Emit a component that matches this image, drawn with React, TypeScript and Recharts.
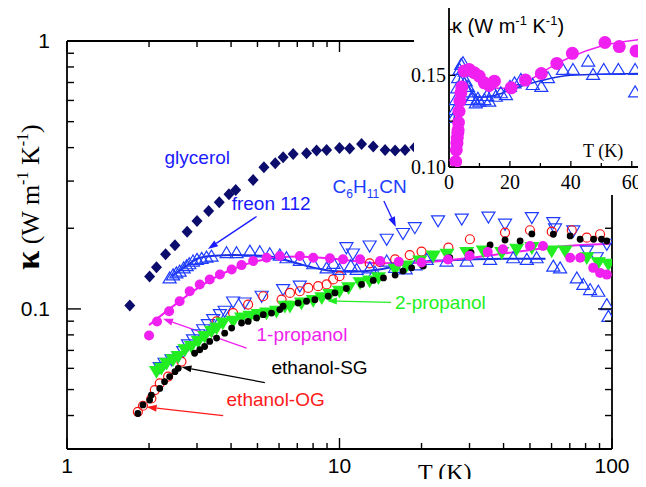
import React from 'react';
import { ComposedChart, Scatter, Line, XAxis, YAxis, ReferenceLine, ReferenceDot, Label } from 'recharts';

const SANS = '"Liberation Sans", Arial, sans-serif';
const SERIF = '"Liberation Serif", "Times New Roman", serif';

// ---------- main plot data: [T (K), kappa (W m^-1 K^-1)] ----------
const glycerol = [[1.70,0.103],[2.01,0.132],[2.13,0.143],[2.30,0.160],[2.49,0.173],[2.76,0.194],[3.00,0.213],[3.31,0.232],[3.62,0.250],[3.93,0.268],[4.16,0.278],[4.82,0.303],[5.28,0.338],[5.81,0.350],[6.21,0.368],[6.76,0.379],[7.57,0.381],[8.24,0.390],[8.97,0.392],[10.0,0.399],[10.9,0.397],[12.05,0.413],[13.3,0.404],[14.7,0.392],[16.0,0.390],[17.4,0.392],[18.9,0.401]];
const freon112 = [[2.38,0.1305],[2.45,0.134],[2.52,0.1363],[2.59,0.1384],[2.68,0.1423],[2.75,0.145],[2.81,0.1474],[2.90,0.1509],[3.00,0.1531],[3.12,0.1544],[3.25,0.1561],[3.39,0.1575],[3.85,0.1621],[4.19,0.1621],[4.69,0.1644],[5.10,0.1634],[5.55,0.1607],[6.04,0.1589],[6.39,0.1552],[7.15,0.1518],[8.01,0.1474],[8.97,0.1423],[9.5,0.148],[10.0,0.1404],[11.0,0.145],[11.56,0.1404],[12.93,0.1423],[13.5,0.137],[14.9,0.1509],[16.0,0.143],[17.5,0.141],[19.0,0.146],[20.9,0.1531],[24.7,0.1509],[29.3,0.1509],[35.7,0.1531],[43.4,0.1552],[48.7,0.1531],[52.9,0.1552],[60.9,0.1445],[64.5,0.1423],[74.3,0.1305],[78.5,0.1234],[83.1,0.1181],[89.1,0.1164],[95.7,0.1038],[97.0,0.0938]];
const freonFit = [[2.42,0.1325],[2.7,0.143],[3.07,0.1552],[3.5,0.158],[4.06,0.1589],[5.41,0.1575],[6.2,0.153],[7.15,0.147],[8.2,0.142],[9.45,0.1384],[11.0,0.1375],[12.6,0.1384],[14.4,0.141],[17.0,0.146],[20.0,0.150],[25.0,0.152],[30.0,0.153],[40.0,0.154],[57.0,0.154]];
const propanol1 = [[2.00,0.0796],[2.14,0.0898],[2.37,0.098],[2.59,0.1068],[2.82,0.1164],[3.07,0.1234],[3.34,0.1288],[3.64,0.1345],[4.02,0.1404],[4.37,0.1457],[4.82,0.1509],[5.40,0.1552],[6.04,0.1575],[7.15,0.1575],[8.01,0.1552],[9.22,0.1544],[10.3,0.1531],[11.9,0.1531],[14.1,0.1509],[16.5,0.150],[20.0,0.149],[25.0,0.153],[30.0,0.158],[35.0,0.163],[39.8,0.167],[50.0,0.1717],[55.8,0.1717],[70.2,0.1552],[76.4,0.1552],[85.3,0.1423],[90.4,0.1363],[95.7,0.1343]];
const propanol1Fit = [[2.0,0.087],[2.5,0.104],[3.0,0.119],[3.5,0.131],[4.0,0.14],[5.0,0.151],[6.0,0.156],[7.0,0.157],[8.0,0.156],[10.0,0.153],[14.0,0.148],[20.0,0.149],[30.0,0.155],[40.0,0.161],[50.0,0.166],[70.0,0.172],[100.0,0.175]];
const c6h11cn = [[2.19,0.0604],[2.28,0.0627],[2.42,0.0646],[2.56,0.0664],[2.67,0.0693],[2.78,0.0734],[2.90,0.0767],[3.03,0.0801],[3.16,0.0836],[3.29,0.0873],[3.44,0.0912],[3.64,0.0952],[3.79,0.098],[4.07,0.1061],[4.49,0.1052],[5.18,0.1115],[6.21,0.1181],[7.15,0.1216],[10.6,0.1692],[11.2,0.1603],[12.9,0.1717],[14.9,0.182],[17.1,0.1912],[18.9,0.201],[23.0,0.2131],[28.1,0.2163],[35.2,0.2201],[40.5,0.2071],[50.8,0.2193],[60.9,0.210],[61.8,0.1988],[72.1,0.1954],[80.8,0.1644],[87.9,0.1552],[95.7,0.1743]];
const ethanolOG = [[1.82,0.0413],[1.90,0.0435],[2.04,0.0463],[2.10,0.0498],[2.19,0.0527],[2.35,0.0559],[2.63,0.0636],[3.54,0.0898],[4.07,0.0965],[4.62,0.1038],[5.25,0.1115],[6.13,0.1083],[6.58,0.1147],[7.15,0.1164],[7.68,0.1198],[8.35,0.1216],[8.97,0.1234],[9.48,0.1288],[10.0,0.1325],[12.9,0.148],[14.1,0.1496],[16.0,0.1531],[18.1,0.1589],[20.0,0.1637],[25.1,0.1692],[30.1,0.182],[40.5,0.1927],[50.0,0.1966],[60.1,0.1943],[71.2,0.1966],[80.8,0.1845],[90.4,0.190]];
const ethanolSG = [[1.82,0.0407],[1.90,0.0438],[2.01,0.0457],[2.04,0.0477],[2.19,0.0505],[2.28,0.0535],[2.38,0.0559],[2.49,0.0583],[2.56,0.060],[2.94,0.0683],[3.07,0.0704],[3.20,0.0724],[3.34,0.0756],[3.54,0.0778],[3.79,0.0812],[4.02,0.0848],[4.37,0.0886],[4.62,0.0898],[4.96,0.0925],[5.25,0.0952],[5.63,0.0965],[6.04,0.0994],[6.21,0.1023],[7.05,0.1052],[7.57,0.1068],[8.12,0.1083],[9.09,0.1115],[9.62,0.1147],[10.6,0.1192],[12.05,0.1234],[13.3,0.1277],[14.5,0.1305],[16.0,0.1337],[17.1,0.1384],[18.4,0.1423],[20.3,0.1445],[25.4,0.1555],[30.4,0.1621],[35.7,0.1732],[40.5,0.1808],[46.0,0.1793],[50.8,0.1905],[60.9,0.190],[70.2,0.1872],[76.4,0.182],[85.6,0.182],[91.5,0.182],[95.7,0.1793]];
const propanol2 = [[2.13,0.0583],[2.22,0.060],[2.32,0.0627],[2.45,0.0646],[2.56,0.0664],[2.71,0.0704],[2.86,0.0724],[3.03,0.0756],[3.20,0.0789],[3.39,0.0824],[3.54,0.0848],[3.73,0.0886],[4.07,0.0898],[4.37,0.0925],[4.69,0.0938],[5.03,0.0952],[5.40,0.0965],[5.87,0.098],[6.30,0.1023],[6.58,0.1023],[7.25,0.1052],[8.01,0.1074],[8.61,0.1099],[9.22,0.1131],[10.0,0.1164],[10.8,0.1198],[11.9,0.1251],[12.9,0.1269],[13.9,0.1305],[16.0,0.1404],[17.6,0.1445],[19.7,0.1509],[22.1,0.1575],[24.8,0.1599],[29.3,0.1621],[33.7,0.1644],[39.4,0.1621],[44.7,0.167],[50.8,0.1692],[60.1,0.1644],[67.3,0.1644],[80.8,0.1552],[89.1,0.1487],[97.0,0.1466]];

// ---------- inset data: [T (K), kappa] (linear axes) ----------
const insetPropanol1 = [[2.2,0.1029],[2.4,0.1093],[2.6,0.113],[2.7,0.1158],[2.9,0.1185],[3.0,0.1203],[3.1,0.1243],[3.3,0.1304],[3.6,0.136],[3.9,0.1405],[4.2,0.1437],[5.0,0.1523],[6.6,0.1532],[8.3,0.1514],[9.9,0.1496],[11.6,0.1459],[13.2,0.1445],[14.9,0.1468],[20.4,0.1432],[25.1,0.1474],[30.3,0.151],[35.4,0.1565],[40.5,0.162],[51.2,0.1679],[55.9,0.1657],[61.4,0.1633]];
const insetPropanol1Fit = [[5,0.151],[8,0.150],[12,0.145],[16,0.143],[20,0.143],[25,0.146],[30,0.151],[35,0.156],[40,0.160],[50,0.166],[65,0.170]];
const insetFreon = [[1.6,0.127],[2.0,0.1313],[2.3,0.1368],[2.7,0.1432],[3.0,0.1487],[3.5,0.1532],[4.0,0.156],[4.6,0.1569],[5.2,0.1523],[5.5,0.147],[6.2,0.144],[6.5,0.141],[7.3,0.1368],[7.8,0.139],[8.8,0.135],[9.5,0.1375],[10.0,0.1359],[11.6,0.1368],[12.5,0.139],[13.2,0.1359],[14.5,0.141],[15.4,0.1386],[17.0,0.1405],[18.7,0.1395],[20.0,0.144],[21.5,0.1459],[23.6,0.1477],[27.5,0.145],[30.3,0.144],[32.5,0.1487],[37.4,0.1532],[40.7,0.1532],[45.7,0.1578],[47.3,0.1505],[50.8,0.1532],[55.6,0.1532],[61.1,0.1532],[61.1,0.141],[64.5,0.135]];
const insetFreonFit = [[1.6,0.126],[2,0.13],[3,0.145],[4,0.150],[5,0.149],[7,0.142],[10,0.138],[15,0.139],[20,0.142],[30,0.147],[40,0.150],[65,0.151]];

// ---------- ticks ----------
const xTicks = [1,2,3,4,5,6,7,8,9,10,20,30,40,50,60,70,80,90,100];
const xMajor = [1,10,100];
const yTicks = [0.03,0.04,0.05,0.06,0.07,0.08,0.09,0.1,0.2,0.3,0.4,0.5,0.6,0.7,0.8,0.9,1];
const yMajor = [0.1,1];
const insetXTicks = [0,10,20,30,40,50,60];
const insetXLabels = [0,20,40,60];
const insetYTicks = [0.1,0.125,0.15,0.175];
const insetYLabels = [0.1,0.15];

// ---------- annotations (data coordinates) ----------
const arrows = [
  { from: [4.96,0.2212], to: [3.29,0.1675], color: '#1a1aff' },
  { from: [14.55,0.253], to: [16.1,0.2024], color: '#1a1aff' },
  { from: [4.56,0.0714], to: [2.25,0.0918], color: '#f020f0' },
  { from: [15.44,0.1058], to: [8.99,0.1072], color: '#22ee22' },
  { from: [5.32,0.0531], to: [2.63,0.0607], color: '#000000' },
  { from: [3.74,0.040], to: [1.96,0.043], color: '#ff1a1a' },
];
const labels = [
  { text: 'glycerol', at: [2.28,0.3476], color: '#1a1aff' },
  { text: 'freon 112', at: [4.02,0.2342], color: '#1a1aff' },
  { text: 'C6H11CN', at: [9.43,0.271], color: '#1a3cff' },
  { text: '1-propanol', at: [4.96,0.076], color: '#ee22ee' },
  { text: '2-propanol', at: [15.97,0.1], color: '#22ee22' },
  { text: 'ethanol-SG', at: [5.63,0.0573], color: '#000000' },
  { text: 'ethanol-OG', at: [3.85,0.0435], color: '#ff1a1a' },
];

const pts = (a: number[][]) => a.map(([T, k]) => ({ T, k }));

// ---------- marker shapes ----------
const diamond = (p: any) => <polygon points={`${p.cx},${p.cy-6} ${p.cx+5.5},${p.cy} ${p.cx},${p.cy+6} ${p.cx-5.5},${p.cy}`} fill="#0c0c6c" />;
const triUp = (color: string, s = 1) => (p: any) => <polygon points={`${p.cx},${p.cy-6*s} ${p.cx+6.5*s},${p.cy+5*s} ${p.cx-6.5*s},${p.cy+5*s}`} fill="none" stroke={color} strokeWidth={1.2} />;
const triDown = (color: string, filled: boolean) => (p: any) => <polygon points={`${p.cx-6.5},${p.cy-5} ${p.cx+6.5},${p.cy-5} ${p.cx},${p.cy+6}`} fill={filled ? color : 'none'} stroke={color} strokeWidth={1.2} />;
const dot = (color: string, r: number) => (p: any) => <circle cx={p.cx} cy={p.cy} r={r} fill={color} />;
const ring = (color: string, r: number) => (p: any) => <circle cx={p.cx} cy={p.cy} r={r} fill="none" stroke={color} strokeWidth={1.2} />;

const arrowShape = (color: string) => (props: any) => {
  const { x1, y1, x2, y2 } = props;
  const ang = Math.atan2(y2 - y1, x2 - x1);
  const L = 10, W = 3.5;
  const bx = x2 - L * Math.cos(ang), by = y2 - L * Math.sin(ang);
  const px = -Math.sin(ang) * W, py = Math.cos(ang) * W;
  return (
    <g>
      <line x1={x1} y1={y1} x2={bx} y2={by} stroke={color} strokeWidth={1.3} />
      <polygon points={`${x2},${y2} ${bx + px},${by + py} ${bx - px},${by - py}`} fill={color} />
    </g>
  );
};

const labelShape = (text: string, color: string) => (p: any) => {
  if (text === 'C6H11CN') {
    return (
      <text x={p.cx} y={p.cy} fill={color} fontSize={19} fontFamily={SANS}>
        C<tspan fontSize={12} dy={5}>6</tspan><tspan dy={-5}>H</tspan><tspan fontSize={12} dy={5}>11</tspan><tspan dy={-5}>CN</tspan>
      </text>
    );
  }
  return <text x={p.cx} y={p.cy} fill={color} fontSize={19} fontFamily={SANS}>{text}</text>;
};

// ---------- tick renderers (inward ticks) ----------
const fmt = (v: number) => String(v);
const bottomTick = (p: any) => {
  const v = p.payload.value; const major = xMajor.includes(v);
  return (
    <g>
      <line x1={p.x} y1={p.y} x2={p.x} y2={p.y - (major ? 11 : 6)} stroke="#000" strokeWidth={1.4} />
      {major && <text x={p.x} y={p.y + 24} textAnchor="middle" fontSize={21} fontFamily={SANS} fill="#000">{fmt(v)}</text>}
    </g>
  );
};
const topTick = (p: any) => {
  const v = p.payload.value; const major = xMajor.includes(v);
  return <line x1={p.x} y1={p.y} x2={p.x} y2={p.y + (major ? 11 : 6)} stroke="#000" strokeWidth={1.4} />;
};
const leftTick = (p: any) => {
  const v = p.payload.value; const major = yMajor.includes(v);
  return (
    <g>
      <line x1={p.x} y1={p.y} x2={p.x + (major ? 14 : 7)} y2={p.y} stroke="#000" strokeWidth={1.4} />
      {major && <text x={p.x - 17} y={p.y + 7} textAnchor="end" fontSize={21} fontFamily={SANS} fill="#000">{fmt(v)}</text>}
    </g>
  );
};
const rightTick = (p: any) => {
  const v = p.payload.value; const major = yMajor.includes(v);
  return <line x1={p.x} y1={p.y} x2={p.x - (major ? 14 : 7)} y2={p.y} stroke="#000" strokeWidth={1.4} />;
};
const insetBottomTick = (p: any) => {
  const v = p.payload.value; const lab = insetXLabels.includes(v);
  return (
    <g>
      <line x1={p.x} y1={p.y} x2={p.x} y2={p.y - (lab ? 6 : 4)} stroke="#000" strokeWidth={1.3} />
      {lab && <text x={p.x} y={p.y + 22} textAnchor="middle" fontSize={20} fontFamily={SERIF} fill="#000">{fmt(v)}</text>}
    </g>
  );
};
const insetLeftTick = (p: any) => {
  const v = p.payload.value; const lab = insetYLabels.includes(v);
  return (
    <g>
      <line x1={p.x} y1={p.y} x2={p.x + (lab ? 6 : 4)} y2={p.y} stroke="#000" strokeWidth={1.3} />
      {lab && <text x={p.x - 3} y={p.y + 7} textAnchor="end" fontSize={20} fontFamily={SERIF} fill="#000">{v.toFixed(2)}</text>}
    </g>
  );
};

const xTitle = (p: any) => {
  const vb = p.viewBox;
  return <text x={vb.x + 351} y={vb.y + 31} fontSize={24} fontFamily={SERIF} fill="#000">T (K)</text>;
};
const yTitle = (p: any) => {
  const vb = p.viewBox;
  const cx = vb.x + 39, cy = vb.y + 156;
  return (
    <text x={cx} y={cy} transform={`rotate(-90 ${cx} ${cy})`} textAnchor="middle" fontSize={26} fontFamily={SERIF} fill="#000">
      <tspan fontSize={34} fontWeight="bold">κ</tspan> (W m<tspan fontSize={16} dy={-11}>-1</tspan><tspan dy={11}> K</tspan><tspan fontSize={16} dy={-11}>-1</tspan><tspan dy={11}>)</tspan>
    </text>
  );
};

const insetKappa = (p: any) => (
  <text x={p.cx} y={p.cy} fontSize={20} fontFamily={SANS} fill="#000">
    κ (W m<tspan fontSize={13} dy={-8}>-1</tspan><tspan dy={8}> K</tspan><tspan fontSize={13} dy={-8}>-1</tspan><tspan dy={8}>)</tspan>
  </text>
);
const insetT = (p: any) => <text x={p.cx} y={p.cy} fontSize={18} fontFamily={SERIF} fill="#000">T (K)</text>;

const axisLine = { stroke: '#000', strokeWidth: 1.8 };

export default function App() {
  return (
    <div style={{ position: 'relative', width: 646, height: 487, margin: -8, overflow: 'hidden', background: '#fff' }}>
      <ComposedChart width={646} height={487} margin={{ top: 0, right: 0, bottom: 8, left: 0 }}>
        <XAxis xAxisId="b" dataKey="T" type="number" scale="log" domain={[1, 100]} allowDataOverflow ticks={xTicks} interval={0}
          height={30} tickLine={false} tickSize={0} tickMargin={0} axisLine={axisLine} tick={bottomTick}>
          <Label content={xTitle} />
        </XAxis>
        <XAxis xAxisId="t" orientation="top" dataKey="T" type="number" scale="log" domain={[1, 100]} allowDataOverflow ticks={xTicks} interval={0}
          height={41} tickLine={false} tickSize={0} tickMargin={0} axisLine={axisLine} tick={topTick} />
        <YAxis yAxisId="l" dataKey="k" type="number" scale="log" domain={[0.03, 1]} allowDataOverflow ticks={yTicks} interval={0}
          width={67} tickLine={false} tickSize={0} tickMargin={0} axisLine={axisLine} tick={leftTick}>
          <Label content={yTitle} />
        </YAxis>
        <YAxis yAxisId="r" orientation="right" dataKey="k" type="number" scale="log" domain={[0.03, 1]} allowDataOverflow ticks={yTicks} interval={0}
          width={34} tickLine={false} tickSize={0} tickMargin={0} axisLine={axisLine} tick={rightTick} />

        <Scatter xAxisId="b" yAxisId="l" data={pts(c6h11cn)} shape={triDown('#1e3cff', false)} isAnimationActive={false} />
        <Scatter xAxisId="b" yAxisId="l" data={pts(ethanolOG)} shape={ring('#ff1010', 4.5)} isAnimationActive={false} />
        <Scatter xAxisId="b" yAxisId="l" data={pts(freon112)} shape={triUp('#1e3cff')} isAnimationActive={false} />
        <Line xAxisId="b" yAxisId="l" data={pts(freonFit)} dataKey="k" type="monotone" stroke="#1a2ee0" strokeWidth={2} dot={false} activeDot={false} isAnimationActive={false} />
        <Scatter xAxisId="b" yAxisId="l" data={pts(propanol2)} shape={triDown('#22ee22', true)} isAnimationActive={false} />
        <Scatter xAxisId="b" yAxisId="l" data={pts(ethanolSG)} shape={dot('#000', 3.4)} isAnimationActive={false} />
        <Scatter xAxisId="b" yAxisId="l" data={pts(glycerol)} shape={diamond} isAnimationActive={false} />
        <Scatter xAxisId="b" yAxisId="l" data={pts(propanol1)} shape={dot('#f020f0', 5)} isAnimationActive={false} />
        <Line xAxisId="b" yAxisId="l" data={pts(propanol1Fit)} dataKey="k" type="monotone" stroke="#f020f0" strokeWidth={2} dot={false} activeDot={false} isAnimationActive={false} />

        {arrows.map((a, i) => (
          <ReferenceLine key={'a' + i} xAxisId="b" yAxisId="l" segment={[{ x: a.from[0], y: a.from[1] }, { x: a.to[0], y: a.to[1] }]} shape={arrowShape(a.color)} />
        ))}
        {labels.map((l, i) => (
          <ReferenceDot key={'l' + i} xAxisId="b" yAxisId="l" x={l.at[0]} y={l.at[1]} r={1} shape={labelShape(l.text, l.color)} />
        ))}
      </ComposedChart>

      <div style={{ position: 'absolute', left: 414, top: 0, width: 240, height: 195, background: '#fff' }} />
      <div style={{ position: 'absolute', left: 400, top: 0, width: 254, height: 195 }}>
        <ComposedChart width={254} height={195} margin={{ top: 0, right: 7, bottom: 0, left: 0 }}>
          <XAxis xAxisId="b" dataKey="T" type="number" domain={[0, 65]} allowDataOverflow ticks={insetXTicks} interval={0}
            height={28} tickLine={false} tickSize={0} tickMargin={0} axisLine={axisLine} tick={insetBottomTick} />
          <XAxis xAxisId="t" orientation="top" dataKey="T" type="number" domain={[0, 65]} allowDataOverflow ticks={[]}
            height={2} tickLine={false} tick={false} axisLine={axisLine} />
          <YAxis yAxisId="l" dataKey="k" type="number" domain={[0.1, 0.19]} allowDataOverflow ticks={insetYTicks} interval={0}
            width={49} tickLine={false} tickSize={0} tickMargin={0} axisLine={axisLine} tick={insetLeftTick} />

          <Scatter xAxisId="b" yAxisId="l" data={pts(insetFreon)} shape={triUp('#1e3cff')} isAnimationActive={false} />
          <Line xAxisId="b" yAxisId="l" data={pts(insetFreonFit)} dataKey="k" type="monotone" stroke="#1a2ee0" strokeWidth={1.5} dot={false} activeDot={false} isAnimationActive={false} />
          <Scatter xAxisId="b" yAxisId="l" data={pts(insetPropanol1)} shape={dot('#f020f0', 6.5)} isAnimationActive={false} />
          <Line xAxisId="b" yAxisId="l" data={pts(insetPropanol1Fit)} dataKey="k" type="monotone" stroke="#f020f0" strokeWidth={1.5} dot={false} activeDot={false} isAnimationActive={false} />

          <ReferenceDot xAxisId="b" yAxisId="l" x={1.0} y={0.1731} r={1} shape={insetKappa} />
          <ReferenceDot xAxisId="b" yAxisId="l" x={44} y={0.1055} r={1} shape={insetT} />
        </ComposedChart>
      </div>
    </div>
  );
}
